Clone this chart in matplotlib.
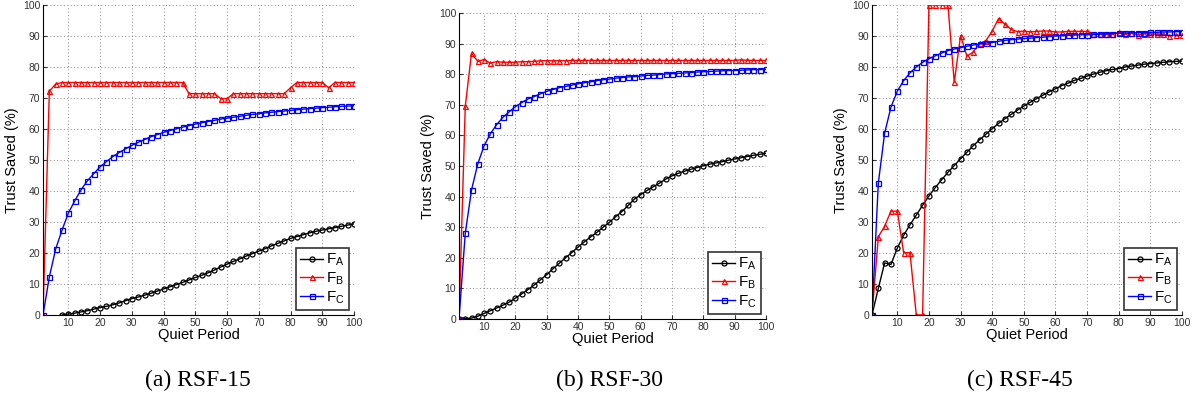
import matplotlib.pyplot as plt

# --- Quiet period samples (every 2 steps) ---
quiet = list(range(2, 101, 2))

# --- RSF-15 ---
fa_15_x = list(range(8, 101, 2))
fa_15 = [0, 0.3, 0.6, 1.0, 1.4, 1.9, 2.4, 2.8, 3.3, 3.9, 4.6, 5.3, 5.8, 6.4, 7.0, 7.7,
         8.4, 9.1, 9.8, 10.5, 11.3, 12.1, 12.8, 13.6, 14.5, 15.5, 16.4, 17.3, 18.1,
         19.0, 19.8, 20.6, 21.4, 22.3, 23.1, 23.9, 24.7, 25.3, 25.9, 26.5, 27.0,
         27.4, 27.8, 28.2, 28.6, 29.0, 29.4]
fb_15 = [0, 72.2, 74.5, 75, 75, 75, 75, 75, 75, 75, 75, 75, 75, 75, 75, 75, 75, 75,
         75, 75, 75, 75, 75, 71.4, 71.4, 71.4, 71.4, 71.4, 69.8, 69.8, 71.4, 71.4,
         71.4, 71.4, 71.4, 71.4, 71.4, 71.4, 71.4, 73.3, 75, 75, 75, 75, 75, 73.3,
         75, 75, 75, 75]
fc_15 = [0, 12.3, 21.3, 27.4, 32.9, 36.8, 40.4, 43.3, 45.6, 47.8, 49.5, 51.1, 52.4,
         53.6, 54.7, 55.7, 56.6, 57.5, 58.2, 58.9, 59.5, 60.1, 60.6, 61.1, 61.6,
         62.0, 62.4, 62.8, 63.2, 63.5, 63.8, 64.1, 64.4, 64.7, 64.9, 65.2, 65.4,
         65.6, 65.8, 66.0, 66.2, 66.4, 66.6, 66.7, 66.9, 67.0, 67.2, 67.3, 67.4, 67.5]

# --- RSF-30 ---
fa_30 = [0, 0.1, 0.3, 0.9, 1.8, 2.7, 3.6, 4.5, 5.5, 6.8, 8.2, 9.6, 11.1, 12.8, 14.5,
         16.4, 18.2, 20.0, 21.7, 23.5, 25.2, 26.8, 28.3, 30.0, 31.6, 33.4, 35.1,
         37.1, 39.2, 40.6, 42.0, 43.2, 44.4, 45.7, 46.8, 47.6, 48.3, 48.9, 49.5,
         50.1, 50.6, 51.0, 51.4, 51.9, 52.3, 52.7, 53.1, 53.5, 53.8, 54.2]
fb_30 = [0, 69.5, 86.9, 84.2, 84.8, 83.6, 84.1, 83.9, 83.9, 83.9, 84.1, 84.1, 84.2,
         84.4, 84.4, 84.4, 84.4, 84.4, 84.5, 84.5, 84.5, 84.5, 84.5, 84.5, 84.5,
         84.5, 84.5, 84.5, 84.5, 84.5, 84.5, 84.5, 84.5, 84.5, 84.5, 84.5, 84.5,
         84.5, 84.5, 84.5, 84.5, 84.5, 84.5, 84.5, 84.5, 84.7, 84.5, 84.5, 84.5, 84.5]
fc_30 = [0, 28.0, 42.2, 50.7, 56.6, 60.5, 63.5, 65.9, 67.7, 69.4, 70.7, 71.9, 72.7,
         73.6, 74.4, 75.0, 75.6, 76.0, 76.4, 76.9, 77.2, 77.5, 77.9, 78.2, 78.4,
         78.7, 78.9, 79.1, 79.2, 79.4, 79.6, 79.7, 79.9, 80.1, 80.2, 80.3, 80.4,
         80.5, 80.7, 80.8, 80.9, 81.0, 81.1, 81.2, 81.2, 81.3, 81.4, 81.5, 81.5, 81.6]

# --- RSF-45 ---
fa_45 = [0, 8.6, 16.8, 16.3, 21.6, 25.7, 29.1, 32.2, 35.4, 38.4, 41.1, 43.6, 46.0,
         48.2, 50.4, 52.5, 54.6, 56.5, 58.3, 60.1, 61.8, 63.3, 64.7, 66.1, 67.4,
         68.6, 69.8, 70.9, 72.0, 73.0, 74.0, 74.8, 75.7, 76.3, 77.1, 77.7, 78.3,
         78.8, 79.2, 79.5, 80.0, 80.3, 80.6, 80.9, 81.1, 81.3, 81.5, 81.7, 81.8, 81.9]
fb_45 = [0, 25.2, 28.7, 33.5, 33.5, 20.1, 20.1, 0, 0, 100, 100, 100, 100, 75.1, 90.1,
         83.5, 84.8, 87.6, 88.5, 91.6, 95.6, 93.8, 92.1, 91.4, 91.6, 91.3, 91.5,
         91.6, 91.6, 91.3, 91.3, 91.5, 91.5, 91.5, 91.5, 90.8, 90.7, 90.5, 90.5,
         91.3, 90.5, 91.0, 90.4, 90.8, 90.7, 90.6, 90.5, 90.1, 90.2, 90.2]
fc_45 = [0, 42.6, 58.7, 67.1, 72.2, 75.6, 78.1, 80.0, 81.5, 82.7, 83.6, 84.5, 85.3,
         85.8, 86.2, 86.7, 87.1, 87.4, 87.7, 87.9, 88.3, 88.6, 88.8, 89.0, 89.2,
         89.3, 89.5, 89.6, 89.8, 90.0, 90.1, 90.2, 90.3, 90.4, 90.4, 90.5, 90.6,
         90.7, 90.8, 90.9, 91.0, 91.0, 91.1, 91.1, 91.2, 91.2, 91.3, 91.3, 91.4, 91.4]

panels = [
    ("(a) RSF-15", fa_15_x, fa_15, fb_15, fc_15),
    ("(b) RSF-30", quiet, fa_30, fb_30, fc_30),
    ("(c) RSF-45", quiet, fa_45, fb_45, fc_45),
]

# axes rectangles in figure pixels: left, bottom(from top), right, top
W, H = 1200, 407
boxes = [(43, 315, 354, 5), (459, 319, 766, 13), (872, 315, 1182, 5)]
caption_x = [198, 610, 1020]

plt.rcParams["font.family"] = ["Liberation Sans", "DejaVu Sans"]
plt.rcParams["mathtext.fontset"] = "custom"
plt.rcParams["mathtext.rm"] = "Liberation Sans"
plt.rcParams["mathtext.it"] = "Liberation Sans"

fig = plt.figure(figsize=(W / 100, H / 100), dpi=100)

for (caption, xa, fa, fb, fc), (l, b, r, t), cx in zip(panels, boxes, caption_x):
    ax = fig.add_axes([l / W, 1 - b / H, (r - l) / W, (b - t) / H])
    mk = dict(markersize=3.6, markerfacecolor="none", markeredgewidth=0.9, linewidth=1.0)
    ax.plot(xa, fa, color="black", marker="o", label=r"F$_{\mathregular{A}}$", **mk)
    ax.plot(quiet, fb, color="red", marker="^", label=r"F$_{\mathregular{B}}$", **mk)
    ax.plot(quiet, fc, color="blue", marker="s", label=r"F$_{\mathregular{C}}$", **mk)

    ax.set_xlim(2, 100)
    ax.set_ylim(0, 100)
    ax.set_xticks(range(10, 101, 10))
    ax.set_yticks(range(0, 101, 10))
    ax.tick_params(direction="in", labelsize=7.5, length=3, pad=2, colors="#333333")
    ax.grid(True, linestyle=(0, (1, 2.5)), color="#888888", linewidth=0.7)
    ax.spines["top"].set_visible(False)
    ax.spines["right"].set_visible(False)
    ax.set_xlabel("Quiet Period", fontsize=10.5, labelpad=0)
    ax.set_ylabel("Trust Saved (%)", fontsize=10.5, labelpad=3)

    leg = ax.legend(loc="lower right", fontsize=11, frameon=True, fancybox=False,
                    handlelength=1.5, handletextpad=0.2, labelspacing=0.15,
                    borderpad=0.25, borderaxespad=0.35)
    leg.get_frame().set_edgecolor("black")
    leg.get_frame().set_linewidth(1.2)

    fig.text(cx / W, 1 - 380 / H, caption, ha="center", va="center",
             fontsize=17, family="Liberation Serif")

plt.savefig("out.png", dpi=100)
plt.close()
